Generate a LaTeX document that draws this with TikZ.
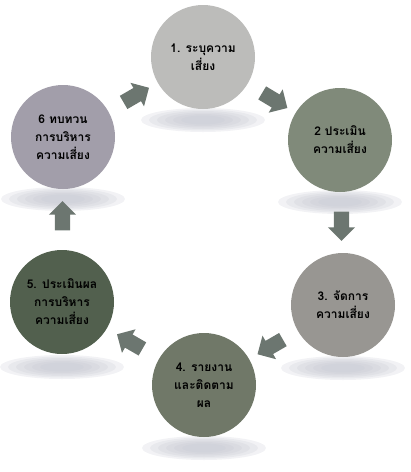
\documentclass[tikz,border=0pt]{standalone}
\usepackage{fontspec}
\newfontfamily\thaifont[Script=Thai]{Loma}
\usepackage{tikz}
\usetikzlibrary{shapes.arrows}

\definecolor{stepone}{RGB}{188,188,186}
\definecolor{steptwo}{RGB}{128,138,122}
\definecolor{stepthree}{RGB}{152,150,146}
\definecolor{stepfour}{RGB}{112,120,104}
\definecolor{stepfive}{RGB}{82,96,78}
\definecolor{stepsix}{RGB}{162,158,170}
\definecolor{arrowgray}{RGB}{108,118,112}
\definecolor{shadowgray}{RGB}{196,198,208}

\begin{document}
\begin{tikzpicture}[x=0.75pt,y=0.75pt,yscale=-1,xscale=1,
  stage/.style={circle, minimum size=78pt, inner sep=0pt, align=center,
    font=\thaifont\bfseries\fontsize{9}{13.5}\selectfont},
  flow/.style={single arrow, draw=none, fill=arrowgray, inner sep=5.5pt,
    minimum height=22pt, single arrow head extend=4.5pt}]
\useasboundingbox (0,0) rectangle (411,472);

%Shadows under the circles
\foreach \cx/\cy in {203/120, 340/202, 343/368, 204/448, 62/367, 63/199}
  \foreach \k in {0,...,5}
    \fill[shadowgray, opacity=0.22] (\cx,\cy) ellipse ({62-\k*8} and {12-\k*1.5});

%Shape: Circle
\node [stage, fill=stepone] (c1) at (203,57) {1. ระบุความ\\เสี่ยง};
%Shape: Circle
\node [stage, fill=steptwo] (c2) at (340,140) {2 ประเมิน\\ความเสี่ยง};
%Shape: Circle
\node [stage, fill=stepthree] (c3) at (343,305) {3. จัดการ\\ความเสี่ยง};
%Shape: Circle
\node [stage, fill=stepfour] (c4) at (204,385) {4. รายงาน\\และติดตาม\\ผล};
%Shape: Circle
\node [stage, fill=stepfive] (c5) at (62,302) {5. ประเมินผล\\การบริหาร\\ความเสี่ยง};
%Shape: Circle
\node [stage, fill=stepsix] (c6) at (63,137) {6 ทบทวน\\การบริหาร\\ความเสี่ยง};

%Block Arrows
\path (c1) -- node [flow, rotate=-31] (a12) {} (c2);
\path (c2) -- node [flow, rotate=-90] (a23) {} (c3);
\path (c3) -- node [flow, rotate=-150] (a34) {} (c4);
\path (c4) -- node [flow, rotate=150] (a45) {} (c5);
\path (c5) -- node [flow, rotate=90] (a56) {} (c6);
\path (c6) -- node [flow, rotate=30] (a61) {} (c1);

\end{tikzpicture}
\end{document}
